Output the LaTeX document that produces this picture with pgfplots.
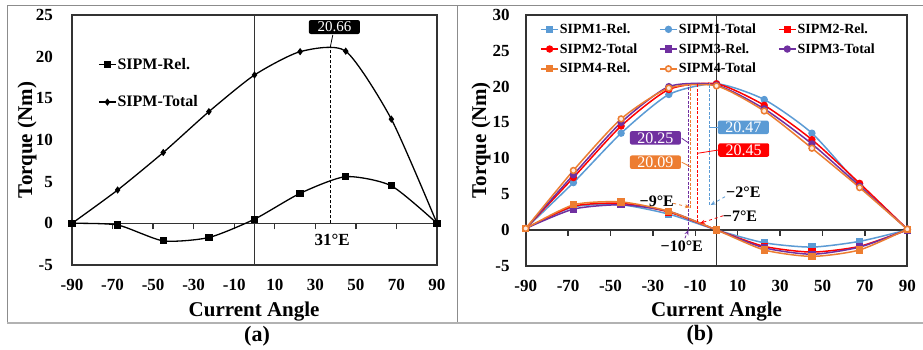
\documentclass[border=0pt]{standalone}
\usepackage{pgfplots}
\pgfplotsset{compat=1.18}
\usepackage{pgfplotstable}
\usepackage{fontspec}
\setmainfont{Liberation Serif}
\usetikzlibrary{arrows.meta}

\definecolor{cB}{HTML}{5B9BD5}
\definecolor{cR}{HTML}{FF0000}
\definecolor{cP}{HTML}{7030A0}
\definecolor{cO}{HTML}{ED7D31}
\definecolor{frm}{HTML}{333333}

\pgfplotstableread{
x rel tot
-90 0 0
-67.5 -0.2 4.0
-45 -2.1 8.5
-22.5 -1.7 13.4
0 0.5 17.8
22.5 3.6 20.6
45 5.6 20.66
67.5 4.5 12.5
90 0 0
}\dataA

\pgfplotstableread{
x r1 t1 r2 t2 r3 t3 r4 t4
-90 0.2 0.2 0.2 0.2 0.2 0.2 0.2 0.2
-67.5 3.2 6.6 3.3 7.3 2.9 7.7 3.5 8.3
-45 3.5 13.5 3.7 14.5 3.5 15.0 3.9 15.5
-22.5 2.2 18.9 2.5 19.6 2.6 20.0 2.6 19.8
0 0 20.4 0 20.4 0 20.2 0 20.1
22.5 -1.8 18.2 -2.3 17.4 -2.5 16.9 -2.8 16.6
45 -2.4 13.5 -3.1 12.6 -3.4 12.0 -3.7 11.4
67.5 -1.6 6.2 -2.3 6.5 -2.4 6.1 -2.8 5.9
90 0 0.1 0 0.1 0 0.1 0.1 0.1
}\dataB

\tikzset{
  annbox/.style={text=white, rounded corners=2pt, inner sep=0pt, minimum width=51pt, minimum height=13.5pt, font=\fontsize{16}{16}\selectfont},
  arr/.style={dashed, line width=0.8pt, -{Stealth[length=5pt,width=4pt]}},
}
\pgfplotsset{
  common/.style={
    scale only axis, clip=false,
    axis line style={frm, line width=1.7pt},
    xmin=-90, xmax=90,
    xtick={-90,-70,-50,-30,-10,10,30,50,70,90},
    major tick length=0pt,
    tick style={draw=none},
    /pgf/number format/assume math mode=true,
    ticklabel style={font=\bfseries\fontsize{17}{17}\selectfont},
    xticklabel style={anchor=center, inner sep=0pt, yshift=-20pt},
    label style={font=\bfseries\fontsize{21}{21}\selectfont},
    xlabel={Current Angle},
    ylabel={Torque (Nm)},
  },
  zeroaxes/.style={
    scale only axis, clip=false,
    xmin=-90, xmax=90,
    axis x line=middle, axis y line=middle,
    axis line style={frm, line width=1.5pt, -},
    xtick={-70,-50,-30,-10,10,30,50,70}, xticklabels={},
    ytick=\empty,
    xtick align=outside, major tick length=6pt,
    every tick/.style={frm, line width=1.4pt},
  },
  vdash/.style={forget plot, line width=1pt, dash pattern=on 3pt off 1.5pt, mark=none, sharp plot},
}

\begin{document}
\begin{tikzpicture}
\useasboundingbox (0,0) rectangle (923pt,349pt);
\fill[white] (0,0) rectangle (923pt,349pt);
% figure frame lines
\draw[gray!90, line width=1pt] (7pt,26pt) -- (7pt,343pt) -- (923pt,343pt);
\draw[gray!90, line width=1pt] (457pt,26pt) -- (457pt,343pt);
\draw[gray!60, line width=1.2pt] (7pt,26pt) -- (923pt,26pt);

% ---------------- (a)
\begin{axis}[zeroaxes, at={(72pt,84pt)}, anchor=south west,
  width=365pt, height=250pt, ymin=-5, ymax=25]
\addplot[draw=none, forget plot] coordinates {(0,0)};
\end{axis}
\begin{axis}[common,
  at={(72pt,84pt)}, anchor=south west,
  width=365pt, height=250pt,
  ymin=-5, ymax=25, ytick={-5,0,5,10,15,20,25},
  yticklabel style={anchor=east, inner sep=0pt, xshift=-19pt},
  xlabel style={at={(axis description cs:0.499,-0.188)}, anchor=center},
  ylabel style={at={(axis description cs:-0.123,0.5)}, anchor=center},
  legend style={at={(axis description cs:0.063,0.84)}, anchor=north west,
    draw=none, fill=none, font=\bfseries\fontsize{16}{16}\selectfont,
    row sep=23pt, nodes={inner sep=1pt}},
  legend cell align=left,
]
\addplot[black, line width=1.3pt, smooth, tension=0.4, mark=square*, mark size=3pt, mark options={solid}] table[x=x,y=rel] {\dataA};
\addlegendentry{SIPM-Rel.}
\addplot[black, line width=1.3pt, smooth, tension=0.4, mark=diamond*, mark size=2.6pt] table[x=x,y=tot] {\dataA};
\addlegendentry{SIPM-Total}
\addplot[forget plot, black, line width=0.9pt, dash pattern=on 3pt off 2pt, mark=none] coordinates {(37.5,0) (37.5,21.3)};
\draw[black, line width=0.8pt] (axis cs:38.6,22.6) -- (axis cs:37.5,21.3);
\node[fill=black, annbox, font=\fontsize{15}{15}\selectfont, minimum height=14pt] at (axis cs:39.4,23.56) {20.66};
\node[font=\bfseries\fontsize{17}{17}\selectfont] at (axis cs:38.3,-2.0) {31°E};
\end{axis}

% ---------------- (b)
\begin{axis}[zeroaxes, at={(525.7pt,83.3pt)}, anchor=south west,
  width=381.6pt, height=250.7pt, ymin=-5, ymax=30]
\addplot[draw=none, forget plot] coordinates {(0,0)};
\end{axis}
\begin{axis}[common,
  at={(525.7pt,83.3pt)}, anchor=south west,
  width=381.6pt, height=250.7pt,
  ymin=-5, ymax=30, ytick={-5,0,5,10,15,20,25,30},
  yticklabel style={anchor=east, inner sep=0pt, xshift=-16pt},
  xlabel style={at={(axis description cs:0.5,-0.183)}, anchor=center},
  ylabel style={at={(axis description cs:-0.117,0.5)}, anchor=center},
  legend columns=3,
  legend style={at={(axis description cs:0.03,0.978)}, anchor=north west,
    draw=none, fill=none, font=\bfseries\fontsize{14}{14}\selectfont,
    nodes={inner sep=1pt}, row sep=6.5pt,
    /tikz/every even column/.append style={column sep=21pt}},
  legend cell align=left,
]
\pgfplotsset{cv/.style={line width=1.5pt, smooth, tension=0.4, mark size=2.9pt, mark options={solid}}}
\addplot[cv, cB, mark=square*] table[x=x,y=r1] {\dataB};
\addlegendentry{SIPM1-Rel.}
\addplot[cv, cB, mark=*] table[x=x,y=t1] {\dataB};
\addlegendentry{SIPM1-Total}
\addplot[cv, cR, mark=square*] table[x=x,y=r2] {\dataB};
\addlegendentry{SIPM2-Rel.}
\addplot[cv, cR, mark=*] table[x=x,y=t2] {\dataB};
\addlegendentry{SIPM2-Total}
\addplot[cv, cP, mark=square*] table[x=x,y=r3] {\dataB};
\addlegendentry{SIPM3-Rel.}
\addplot[cv, cP, mark=*] table[x=x,y=t3] {\dataB};
\addlegendentry{SIPM3-Total}
\addplot[cv, cO, mark=square*] table[x=x,y=r4] {\dataB};
\addlegendentry{SIPM4-Rel.}
\addplot[cv, cO, mark=*, mark options={solid, fill=cO!15}] table[x=x,y=t4] {\dataB};
\addlegendentry{SIPM4-Total}
% peak markers
\addplot[vdash, cB] coordinates {(-3.4,3.5) (-3.4,20.47)};
\addplot[vdash, cR] coordinates {(-9.06,1.1) (-9.06,20.45)};
\addplot[vdash, cP] coordinates {(-13,0) (-13,20.25)};
\addplot[vdash, cO] coordinates {(-12.2,3.0) (-12.2,20.09)};
% leaders and boxes
\draw[cB, line width=0.8pt] (axis cs:0.57,14.32) -- (axis cs:-3.4,14.32);
\draw[cR, line width=0.8pt] (axis cs:0.85,11.15) -- (axis cs:-9.06,10.69);
\draw[cP, line width=0.8pt] (axis cs:-16.4,12.79) -- (axis cs:-13,12.1);
\draw[cO, line width=0.8pt] (axis cs:-16.4,9.45) -- (axis cs:-12.2,8.8);
\node[annbox, fill=cB] at (axis cs:12.65,14.32) {20.47};
\node[annbox, fill=cR] at (axis cs:12.83,11.15) {20.45};
\node[annbox, fill=cP] at (axis cs:-28.8,12.85) {20.25};
\node[annbox, fill=cO] at (axis cs:-28.8,9.45) {20.09};
% angle labels
\draw[arr, cO] (axis cs:-20.4,3.71) -- (axis cs:-12.5,3.15);
\draw[arr, cB] (axis cs:4.0,4.63) -- (axis cs:-2.8,3.47);
\draw[arr, cR] (axis cs:3.2,1.98) -- (axis cs:-7.8,0.92);
\draw[arr, cP] (axis cs:-14.9,-1.17) -- (axis cs:-13.3,-0.02);
\node[font=\bfseries\fontsize{16}{16}\selectfont] at (axis cs:-28.2,3.94) {−9°E};
\node[font=\bfseries\fontsize{16}{16}\selectfont] at (axis cs:12.65,5.33) {−2°E};
\node[font=\bfseries\fontsize{16}{16}\selectfont] at (axis cs:11.1,1.94) {−7°E};
\node[font=\bfseries\fontsize{16}{16}\selectfont] at (axis cs:-16.4,-2.35) {−10°E};
\end{axis}

\node[font=\bfseries\fontsize{22}{22}\selectfont] at (257pt,13pt) {(a)};
\node[font=\bfseries\fontsize{22}{22}\selectfont] at (700pt,14pt) {(b)};
\end{tikzpicture}
\end{document}
